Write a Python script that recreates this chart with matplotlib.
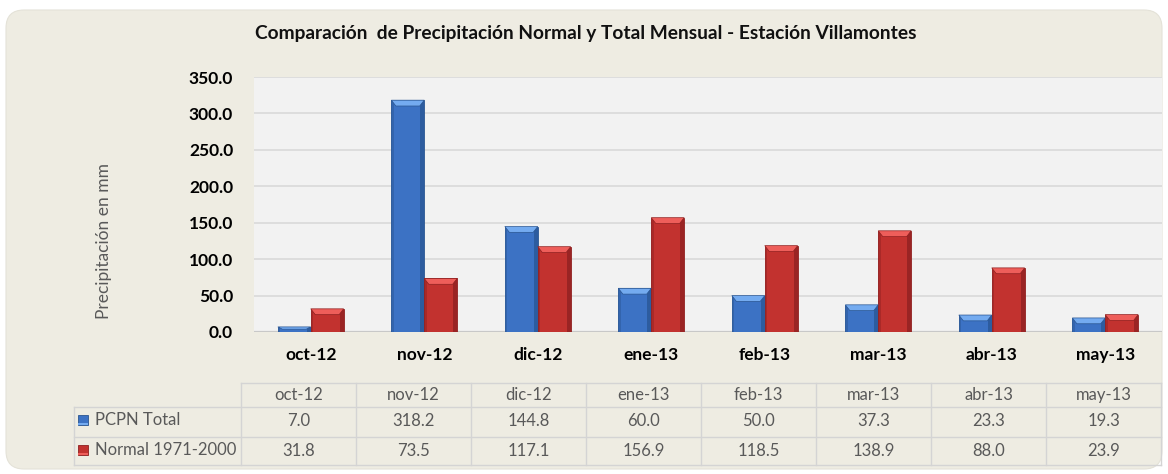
import numpy as np
import matplotlib
matplotlib.use('Agg')
import matplotlib.pyplot as plt
from matplotlib.patches import FancyBboxPatch, Rectangle, Polygon

plt.rcParams['font.family'] = ['Lato', 'DejaVu Sans']

months = ['oct-12', 'nov-12', 'dic-12', 'ene-13', 'feb-13', 'mar-13', 'abr-13', 'may-13']
pcpn_total = [7.0, 318.2, 144.8, 60.0, 50.0, 37.3, 23.3, 19.3]
normal = [31.8, 73.5, 117.1, 156.9, 118.5, 138.9, 88.0, 23.9]
series_names = ['PCPN Total', 'Normal 1971-2000']

W, H = 1168, 474
fig = plt.figure(figsize=(W / 100, H / 100), dpi=100)
fig.patch.set_facecolor('white')

# overlay axes in pixel units for background + data table
bg = fig.add_axes([0, 0, 1, 1], zorder=0)
bg.set_xlim(0, W)
bg.set_ylim(H, 0)
bg.axis('off')
bg.add_patch(FancyBboxPatch((6, 10), 1156, 459, boxstyle='round,pad=0,rounding_size=18',
                            facecolor='#eeece2', edgecolor='#e4e2d8', lw=0.8))

# ---- main chart ----
ax = fig.add_axes([254 / W, (H - 332) / H, (1162 - 254) / W, (332 - 77) / H], zorder=2)
ax.set_facecolor('#f2f2f2')
for s in ax.spines.values():
    s.set_visible(False)

x = np.arange(len(months))
bw = 0.29
ax.set_xlim(-0.5, len(months) - 0.5)
ax.set_ylim(0, 350)
ax.set_yticks(np.arange(0, 351, 50))
ax.yaxis.grid(True, color='#d9d9d9', lw=1.2)
ax.set_axisbelow(True)
ax.axhline(0, color='#c8c8c8', lw=1.6, zorder=1)

styles = [
    dict(face='#3c72c4', top='#74abf0', side='#2d5c9f', edge='#2a5590'),
    dict(face='#c2322f', top='#ee5e5a', side='#9a2424', edge='#8e2020'),
]
dx = 0.04
dy_full = 8
for k, vals in enumerate([pcpn_total, normal]):
    st = styles[k]
    for i, v in enumerate(vals):
        x0 = x[i] - bw + k * bw
        x1 = x0 + bw
        ax.add_patch(Rectangle((x0, 0), bw, v, facecolor=st['face'], edgecolor=st['edge'],
                               lw=0.6, zorder=3))
        ax.add_patch(Rectangle((x1 - 0.035, 0), 0.035, v, facecolor=st['side'], lw=0, zorder=3.5))
        ax.add_patch(Rectangle((x0, 0), 0.02, v, facecolor=st['side'], lw=0, alpha=0.6, zorder=3.5))
        dy = min(dy_full, v * 0.45)
        ax.add_patch(Polygon([(x0, v), (x1, v), (x1 - dx, v - dy), (x0 + dx, v - dy)],
                             closed=True, facecolor=st['top'], edgecolor=st['edge'],
                             lw=0.5, zorder=4))

ax.set_xticks(x)
ax.set_xticklabels(months, fontsize=12.5, fontweight='bold')
ax.set_yticklabels([f'{t:.1f}' for t in np.arange(0, 351, 50)], fontsize=12.5, fontweight='bold')
ax.tick_params(axis='x', length=0, pad=11)
ax.tick_params(axis='y', length=0, pad=15)

fig.text(586 / W, 1 - 33 / H,
         'Comparación  de Precipitación Normal y Total Mensual - Estación Villamontes',
         ha='center', va='center', fontsize=13.8, fontweight='bold', color='#111111')
fig.text(104 / W, 1 - 241 / H, 'Precipitación en mm', rotation=90, ha='center', va='center',
         fontsize=12.5, color='#595959')

# ---- data table ----
tab = fig.add_axes([0, 0, 1, 1], zorder=3)
tab.set_xlim(0, W)
tab.set_ylim(H, 0)
tab.axis('off')
gc = '#d4d4d4'
col_l, col0, cw = 74, 241, 115
rows_y = [383, 407, 437, 465]
col_edges = [col0 + cw * j for j in range(len(months) + 1)]
tab.plot([col0, col_edges[-1]], [rows_y[0]] * 2, color=gc, lw=1)
for yy in rows_y[1:]:
    tab.plot([col_l, col_edges[-1]], [yy] * 2, color=gc, lw=1)
tab.plot([col_l, col_l], [rows_y[1], rows_y[3]], color=gc, lw=1)
for xx in col_edges:
    tab.plot([xx, xx], [rows_y[0], rows_y[3]], color=gc, lw=1)

tc = '#595959'
fs = 12
for j, m in enumerate(months):
    cx = col0 + cw * (j + 0.5)
    tab.text(cx, 395, m, ha='center', va='center', fontsize=fs, color=tc)
    tab.text(cx, 421, f'{pcpn_total[j]:.1f}', ha='center', va='center', fontsize=fs, color=tc)
    tab.text(cx, 451, f'{normal[j]:.1f}', ha='center', va='center', fontsize=fs, color=tc)

for r, (name, st) in enumerate(zip(series_names, styles)):
    cy = 420 if r == 0 else 450
    tab.add_patch(Rectangle((78, cy - 5), 10, 10, facecolor=st['face'], edgecolor=st['edge'], lw=0.6))
    tab.add_patch(Rectangle((78, cy + 3), 10, 2, facecolor=st['top'], lw=0))
    tab.text(95, cy, name, ha='left', va='center', fontsize=fs, color=tc)

fig.savefig('out.png', dpi=100, facecolor=fig.get_facecolor())
